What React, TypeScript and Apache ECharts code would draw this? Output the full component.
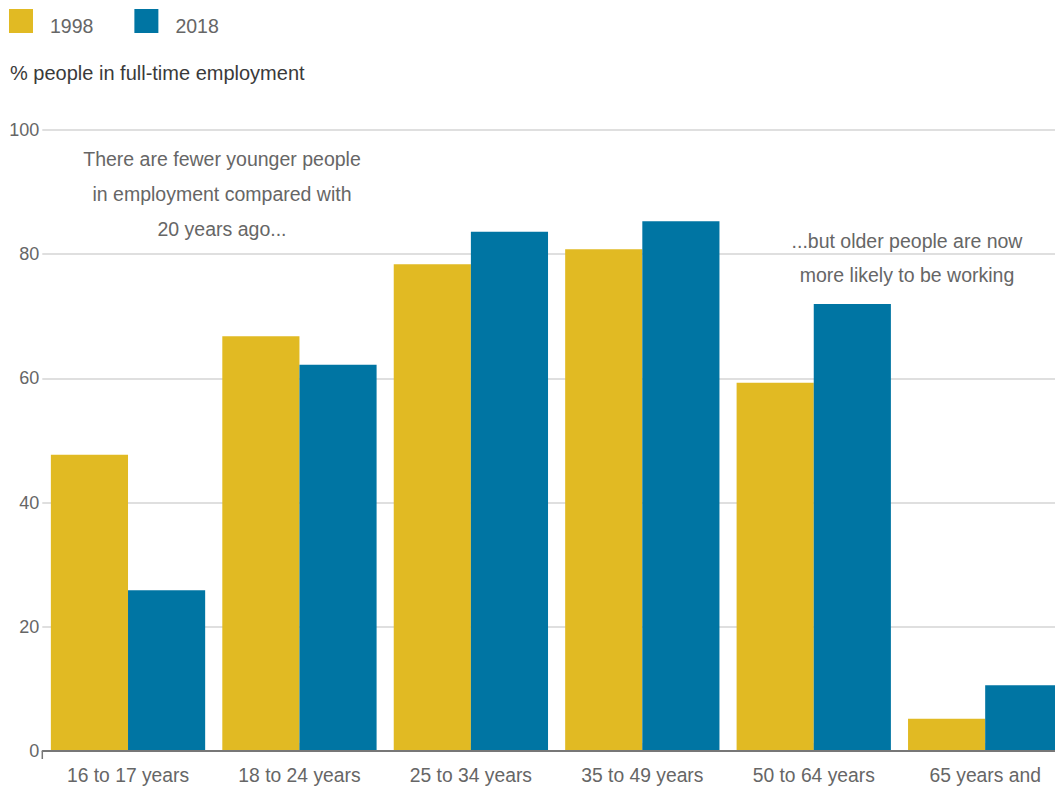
import React, { useEffect, useRef } from "react";
import * as echarts from "echarts";

const categories = [
  "16 to 17 years",
  "18 to 24 years",
  "25 to 34 years",
  "35 to 49 years",
  "50 to 64 years",
  "65 years and",
];
const values1998 = [47.7, 66.8, 78.4, 80.8, 59.3, 5.2];
const values2018 = [25.9, 62.2, 83.6, 85.3, 72.0, 10.6];
const seriesNames = ["1998", "2018"];
const yTicks = { min: 0, max: 100, interval: 20 };
const titleText = "% people in full-time employment";
const noteYoung = "There are fewer younger people\nin employment compared with\n20 years ago...";
const noteOld = "...but older people are now\nmore likely to be working";

const FONT = '"Liberation Sans", Arial, sans-serif';
const YELLOW = "#E1BA23";
const BLUE = "#0075A3";
const GREY = "#666666";

export default function App() {
  const ref = useRef<HTMLDivElement>(null);
  useEffect(() => {
    if (!ref.current) return;
    const chart = echarts.init(ref.current, undefined, { renderer: "svg" });
    chart.setOption({
      animation: false,
      textStyle: { fontFamily: FONT },
      title: {
        text: titleText,
        left: 10,
        top: 63,
        padding: 0,
        textStyle: { fontSize: 20, fontWeight: "normal", color: "#3a3a3a", fontFamily: FONT },
      },
      legend: {
        left: 9,
        top: 9,
        padding: 0,
        icon: "rect",
        itemWidth: 24,
        itemHeight: 24,
        itemGap: 41,
        data: seriesNames,
        formatter: "{a|{name}}",
        textStyle: {
          fontSize: 19.5,
          color: GREY,
          fontFamily: FONT,
          padding: [0, 0, 0, 12],
          rich: { a: { fontSize: 19.5, color: GREY, fontFamily: FONT, padding: [10, 0, 0, 0] } },
        },
      },
      grid: { left: 42.3, top: 130, width: 1028.6, height: 621 },
      xAxis: {
        type: "category",
        data: categories,
        offset: 8,
        axisLine: { show: true, lineStyle: { color: "#777", width: 1.5 } },
        axisTick: { show: true, alignWithLabel: true, inside: true, length: 8, lineStyle: { color: "#ccc", width: 1.5 } },
        axisLabel: { interval: 0, fontSize: 19.3, color: GREY, margin: 7, fontFamily: FONT },
      },
      yAxis: {
        type: "value",
        min: yTicks.min,
        max: yTicks.max,
        interval: yTicks.interval,
        axisLine: { show: false },
        axisTick: { show: false },
        axisLabel: { fontSize: 18, color: GREY, margin: 3, fontFamily: FONT },
        splitLine: { lineStyle: { color: "#d4d4d4", width: 1.5 } },
      },
      series: [
        {
          name: seriesNames[0],
          type: "bar",
          data: values1998,
          itemStyle: { color: YELLOW },
          barGap: "0%",
          barCategoryGap: "10%",
          markLine: {
            silent: true,
            symbol: "none",
            label: { show: false },
            lineStyle: { color: "#777", width: 2, type: "solid" },
            data: [{ yAxis: 0 }],
          },
        },
        {
          name: seriesNames[1],
          type: "bar",
          data: values2018,
          itemStyle: { color: BLUE },
          barGap: "0%",
          barCategoryGap: "10%",
        },
      ],
      graphic: [
        {
          type: "line",
          shape: { x1: 42.3, y1: 751, x2: 42.3, y2: 759 },
          style: { stroke: "#777", lineWidth: 1.5 },
          silent: true,
        },
        {
          type: "text",
          x: 222,
          y: 141.5,
          silent: true,
          style: {
            text: noteYoung,
            font: `19.5px ${FONT}`,
            fill: GREY,
            align: "center",
            verticalAlign: "top",
            lineHeight: 35,
          },
        },
        {
          type: "text",
          x: 907,
          y: 223.5,
          silent: true,
          style: {
            text: noteOld,
            font: `19.5px ${FONT}`,
            fill: GREY,
            align: "center",
            verticalAlign: "top",
            lineHeight: 34,
            backgroundColor: "#fff",
          },
        },
      ],
    });
    return () => chart.dispose();
  }, []);
  return (
    <div style={{ position: "absolute", left: 0, top: 0, width: 1055, height: 790, overflow: "hidden", background: "#fff" }}>
      <div ref={ref} style={{ width: 1075, height: 790 }} />
    </div>
  );
}
